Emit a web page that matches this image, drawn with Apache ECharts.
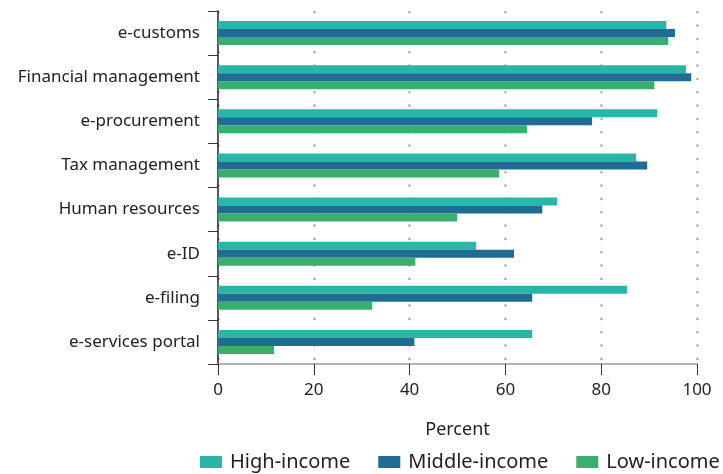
<!DOCTYPE html>
<html><head><meta charset="utf-8">
<script src="https://cdn.jsdelivr.net/npm/echarts@6/dist/echarts.min.js"></script>
<style>html,body{margin:0;padding:0;background:#fff}#c{width:723px;height:474px}</style>
</head><body><div id="c"></div>
<script>
const categories = ["e-customs","Financial management","e-procurement","Tax management","Human resources","e-ID","e-filing","e-services portal"];
const highIncome = [93.6, 97.7, 91.7, 87.3, 70.8, 53.9, 85.4, 65.6];
const middleIncome = [95.4, 98.8, 78.1, 89.6, 67.7, 61.8, 65.6, 41.0];
const lowIncome = [94.0, 91.1, 64.5, 58.7, 49.9, 41.2, 32.2, 11.7];
const seriesNames = ["High-income","Middle-income","Low-income"];
const colors = ["#2ab5a8","#1f6d93","#3aae6e"];
const font = "Noto Sans";
const chart = echarts.init(document.getElementById('c'));
const mk = (name, data, color) => ({name, type:'bar', data, barWidth:8, barGap:'0%', itemStyle:{color}, z:2});
chart.setOption({
  animation:false,
  textStyle:{fontFamily:font},
  grid:{left:218, right:26, top:11, bottom:110, containLabel:false},
  legend:{left:200, top:452, width:800, padding:0, itemWidth:22, itemHeight:12, itemGap:28,
    icon:'rect',
    textStyle:{fontSize:20, color:'#222', fontFamily:font, padding:[0,0,0,3]},
    data:seriesNames},
  xAxis:{type:'value', min:0, max:100, interval:20,
    name:'Percent', nameLocation:'middle', nameGap:57,
    nameTextStyle:{fontSize:18, color:'#222', fontFamily:font},
    axisLine:{show:true, lineStyle:{color:'#999', width:1.5}},
    axisTick:{show:true, length:11, lineStyle:{color:'#333'}},
    axisLabel:{fontSize:17, color:'#222', margin:18, fontFamily:font},
    splitLine:{show:true, lineStyle:{color:'#aaa', width:2.6, type:[0,13.33], dashOffset:12.03, cap:'round'}}},
  yAxis:{type:'category', data:categories, inverse:true,
    axisLine:{show:true, lineStyle:{color:'#222', width:1.5}},
    axisTick:{show:true, length:10, lineStyle:{color:'#333'}},
    axisLabel:{fontSize:17, color:'#222', margin:18, fontFamily:font},
    splitLine:{show:false}},
  series:[mk(seriesNames[0], highIncome, colors[0]), mk(seriesNames[1], middleIncome, colors[1]), mk(seriesNames[2], lowIncome, colors[2])]
});
</script></body></html>
